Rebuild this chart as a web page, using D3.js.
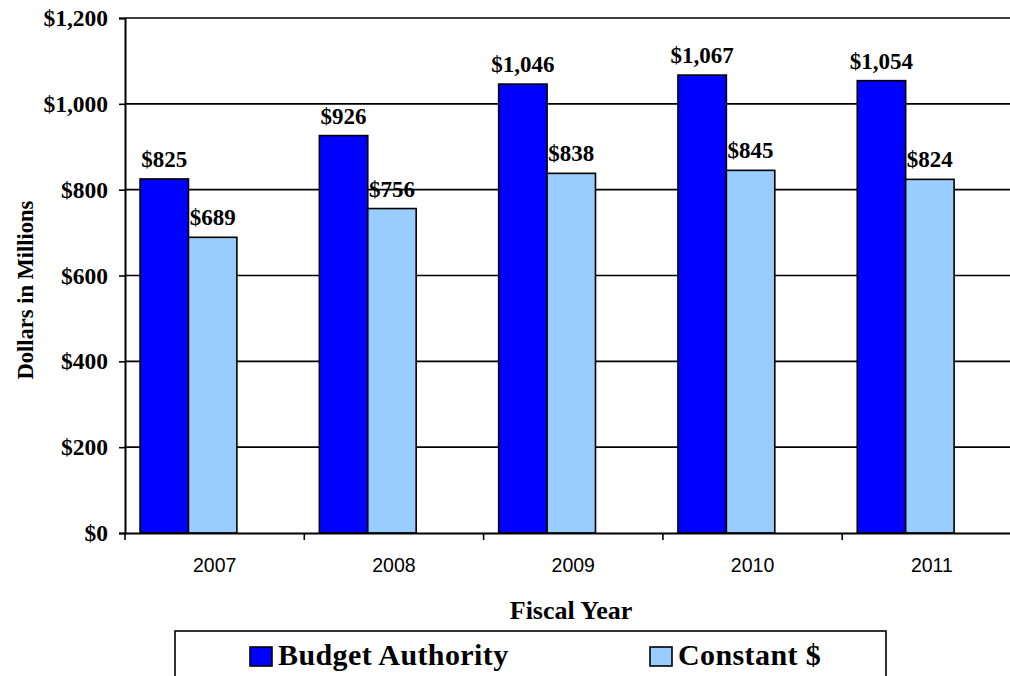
<!DOCTYPE html>
<html lang="en">
<head>
<meta charset="utf-8">
<title>Budget Authority by Fiscal Year</title>
<script src="https://d3js.org/d3.v7.min.js"></script>
<style>
  body { margin: 0; background: #fff; }
  text { font-family: "Liberation Serif", "Times New Roman", serif; font-weight: bold; }
</style>
</head>
<body>
<script>
// data
var years = ["2007", "2008", "2009", "2010", "2011"];
var seriesNames = ["Budget Authority", "Constant $"];
var budgetAuthority = [825, 926, 1046, 1067, 1054];
var constantDollars = [689, 756, 838, 845, 824];
var yTicks = [0, 200, 400, 600, 800, 1000, 1200];
var seriesColors = ["#0000ff", "#99ccff"];

var w = 1010, h = 676;
var svg = d3.select("body").append("svg")
  .attr("width", w).attr("height", h);

var x = d3.scaleBand().domain(years).range([125, 1021.5]);
var y = d3.scaleLinear().domain([0, 1200]).range([533, 18]);
var bw = x.bandwidth();
var x1 = d3.scaleBand().domain(seriesNames).range([bw * 0.084, bw * 0.084 + bw * 0.54]);

// gridlines
svg.append("g").selectAll("line")
  .data(yTicks.slice(1))
  .enter().append("line")
  .attr("x1", 125).attr("x2", 1021.5)
  .attr("y1", function(d) { return y(d); })
  .attr("y2", function(d) { return y(d); })
  .attr("stroke", "#000").attr("stroke-width", 1.6);

// y axis
var yAxis = svg.append("g")
  .attr("transform", "translate(125,0)")
  .call(d3.axisLeft(y).tickValues(yTicks).tickSize(6).tickPadding(11)
    .tickFormat(function(d) { return "$" + d3.format(",")(d); }));
yAxis.select(".domain").attr("stroke-width", 2);
yAxis.selectAll(".tick line").attr("stroke-width", 1.6);
yAxis.selectAll("text")
  .style("font-family", "'Liberation Serif', serif")
  .style("font-weight", "bold")
  .style("font-size", "23.5px")
  .attr("fill", "#000");

// bars
var rows = years.map(function(yr, i) {
  return { year: yr, vals: [budgetAuthority[i], constantDollars[i]] };
});

var groups = svg.append("g").selectAll("g")
  .data(rows).enter().append("g")
  .attr("transform", function(d) { return "translate(" + x(d.year) + ",0)"; });

groups.selectAll("rect")
  .data(function(d) { return d.vals.map(function(v, j) { return { s: seriesNames[j], v: v, j: j }; }); })
  .enter().append("rect")
  .attr("x", function(d) { return x1(d.s); })
  .attr("width", x1.bandwidth())
  .attr("y", function(d) { return y(d.v); })
  .attr("height", function(d) { return y(0) - y(d.v); })
  .attr("fill", function(d) { return seriesColors[d.j]; })
  .attr("stroke", "#000").attr("stroke-width", 1.6);

groups.selectAll("text.val")
  .data(function(d) { return d.vals.map(function(v, j) { return { s: seriesNames[j], v: v }; }); })
  .enter().append("text")
  .attr("class", "val")
  .attr("x", function(d) { return x1(d.s) + x1.bandwidth() / 2; })
  .attr("y", function(d) { return y(d.v) - 12; })
  .attr("text-anchor", "middle")
  .style("font-size", "23px")
  .text(function(d) { return "$" + d3.format(",")(d.v); });

// x axis
var xAxis = svg.append("g")
  .attr("transform", "translate(0,533)")
  .call(d3.axisBottom(x).tickSize(0).tickPadding(25));
xAxis.select(".domain").attr("stroke-width", 2);
xAxis.selectAll("text")
  .style("font-family", "'Liberation Sans', Arial, sans-serif")
  .style("font-weight", "normal")
  .style("font-size", "19.5px")
  .attr("fill", "#000");

// category separator ticks
svg.append("g").selectAll("line")
  .data(years)
  .enter().append("line")
  .attr("x1", function(d) { return x(d); })
  .attr("x2", function(d) { return x(d); })
  .attr("y1", 533).attr("y2", 540)
  .attr("stroke", "#000").attr("stroke-width", 1.6);

// axis titles
svg.append("text")
  .attr("x", 571).attr("y", 619)
  .attr("text-anchor", "middle")
  .style("font-size", "26px")
  .text("Fiscal Year");

svg.append("text")
  .attr("transform", "translate(33,290) rotate(-90)")
  .attr("text-anchor", "middle")
  .style("font-size", "22.5px")
  .text("Dollars in Millions");

// legend
var legend = svg.append("g");
legend.append("rect")
  .attr("x", 175).attr("y", 631).attr("width", 711).attr("height", 60)
  .attr("fill", "#fff").attr("stroke", "#000").attr("stroke-width", 1.6);

var legendPos = [250, 650];
seriesNames.forEach(function(name, i) {
  legend.append("rect")
    .attr("x", legendPos[i]).attr("y", 647)
    .attr("width", 22).attr("height", 19)
    .attr("fill", seriesColors[i]).attr("stroke", "#000").attr("stroke-width", 1.6);
  legend.append("text")
    .attr("x", legendPos[i] + 28).attr("y", 665)
    .style("font-size", "30px")
    .style("letter-spacing", "0.4px")
    .text(name);
});
</script>
</body>
</html>
